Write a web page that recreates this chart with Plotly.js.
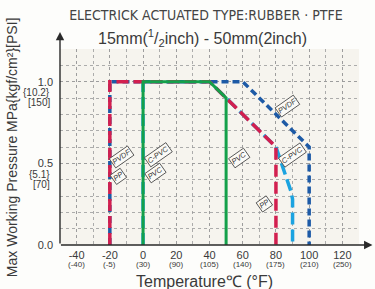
<!DOCTYPE html>
<html><head><meta charset="utf-8">
<script src="https://cdn.plot.ly/plotly-3.0.1.min.js"></script>
<style>html,body{margin:0;padding:0;background:#fdfdfb;}#chart{width:375px;height:289px;}</style>
</head><body><div id="chart"></div>
<script>
// ---- data ----
const ppX = [-20, -20, 40, 80, 80];
const ppY = [0, 1.0, 1.0, 0.6, 0];
const pvdfX = [-20, -20, 60, 100, 100];
const pvdfY = [0, 1.0, 1.0, 0.6, 0];
const pvcX = [0, 0, 40, 50, 50];
const pvcY = [0, 1.0, 1.0, 0.9, 0];
const cpvcX = [0, 0, 40, 80, 86, 89, 90, 90];
const cpvcY = [0, 1.0, 1.0, 0.6, 0.42, 0.33, 0.28, 0];

const xTickVals = [-40, -20, 0, 20, 40, 60, 80, 100, 120];
const xTickC = ['-40', '-20', '0', '20', '40', '60', '80', '100', '120'];
const xTickF = ['(-40)', '(-5)', '(30)', '(90)', '(105)', '(140)', '(175)', '(210)', '(250)'];
const yTickVals = [0, 0.5, 1.0];
const yTickMPa = ['0.0', '0.5', '1.0'];
const yTickKgf = ['', '{5.1}', '{10.2}'];
const yTickPsi = ['', '[70]', '[150]'];

const labelText = ['PVDF', 'PP', 'C-PVC', 'PVC', 'PVC', 'PVDF', 'C-PVC', 'PP'];
const labelX = [-13, -14.5, 9, 7.5, 58, 87, 90, 73];
const labelY = [0.54, 0.42, 0.55, 0.44, 0.53, 0.85, 0.55, 0.25];

const titleText = 'ELECTRICK ACTUATED TYPE:RUBBER · PTFE';
const subtitleText = '15mm(<sup>1</sup>/<sub>2</sub>inch) - 50mm(2inch)';
const yTitle = 'Max Working Pressure MPa{kgf/cm²}[PSI]';
const xTitle = 'Temperature℃ (°F)';

// ---- build ----
const txtCol = '#3a3a3a';
const sans = 'Liberation Sans, Arial, sans-serif';

const traces = [
  {x: pvdfX, y: pvdfY, mode: 'lines', line: {color: '#1d5aa6', width: 3.5, dash: '7px,4px'}, hoverinfo: 'skip'},
  {x: cpvcX, y: cpvcY, mode: 'lines', line: {color: '#1ba3e0', width: 3.5, dash: '12px,5px'}, hoverinfo: 'skip'},
  {x: ppX, y: ppY, mode: 'lines', line: {color: '#d21f4f', width: 3.5, dash: '12px,5px'}, hoverinfo: 'skip'},
  {x: pvcX, y: pvcY, mode: 'lines', line: {color: '#14a04a', width: 3}, hoverinfo: 'skip'}
];

const annotations = labelText.map((t, i) => ({
  x: labelX[i], y: labelY[i], xref: 'x', yref: 'y', text: '<i>' + t + '</i>', showarrow: false,
  textangle: -35, font: {family: sans, size: 7.5, color: '#333'},
  bordercolor: '#444', borderwidth: 0.8, borderpad: 0.5, bgcolor: '#fbfaf6'
}));
// °F labels under the °C tick labels
xTickVals.forEach((v, i) => annotations.push({
  x: v, xref: 'x', y: -0.097, yref: 'paper', text: xTickF[i], showarrow: false,
  xanchor: 'center', yanchor: 'middle', font: {family: sans, size: 8, color: txtCol}
}));
// kgf and PSI lines under the MPa tick labels
yTickVals.forEach((v, i) => {
  if (!yTickKgf[i]) return;
  annotations.push({x: -0.027, xref: 'paper', y: v, yref: 'y', yshift: -11, text: yTickKgf[i], showarrow: false,
    xanchor: 'right', yanchor: 'middle', font: {family: sans, size: 10, color: txtCol}});
  annotations.push({x: -0.027, xref: 'paper', y: v, yref: 'y', yshift: -21, text: yTickPsi[i], showarrow: false,
    xanchor: 'right', yanchor: 'middle', font: {family: sans, size: 10, color: txtCol}});
});
annotations.push(
  {xref: 'paper', yref: 'paper', x: 1.045, y: 0, ax: -313, ay: 0, text: '', showarrow: true,
   arrowhead: 2, arrowsize: 1.2, arrowwidth: 1.4, arrowcolor: '#2a2a2a'},
  {xref: 'paper', yref: 'paper', x: 0, y: 1.087, ax: 0, ay: 213, text: '', showarrow: true,
   arrowhead: 2, arrowsize: 1.2, arrowwidth: 1.4, arrowcolor: '#2a2a2a'},
  {xref: 'paper', yref: 'paper', x: 0.478, y: 1.056, xanchor: 'center', yanchor: 'middle', text: subtitleText,
   showarrow: false, font: {family: sans, size: 16, color: txtCol}},
  {xref: 'paper', yref: 'paper', x: -0.16, y: 0.50, xanchor: 'center', yanchor: 'middle', text: yTitle,
   showarrow: false, textangle: -90, font: {family: sans, size: 14, color: txtCol}},
  {xref: 'paper', yref: 'paper', x: 0.483, y: -0.186, xanchor: 'center', yanchor: 'middle', text: xTitle,
   showarrow: false, font: {family: sans, size: 16, color: txtCol}}
);

const gridStyle = {gridcolor: '#9a9a9a', gridwidth: 0.8, griddash: 'dot'};
const layout = {
  width: 375, height: 289,
  margin: {l: 60, r: 16, t: 49, b: 44},
  paper_bgcolor: '#fdfdfb', plot_bgcolor: '#f6f4ee',
  showlegend: false,
  title: {text: titleText, x: 0.488, xref: 'paper', xanchor: 'center', y: 1 - 15/289, yref: 'container', yanchor: 'middle',
    font: {family: 'DejaVu Sans Condensed, DejaVu Sans, sans-serif', size: 14, color: '#444'}},
  xaxis: Object.assign({range: [-50, 130], tickvals: xTickVals, ticktext: xTickC, showgrid: true,
    zeroline: false, showline: false, ticks: '', ticklabelstandoff: 2,
    tickfont: {family: sans, size: 11, color: txtCol},
    minor: Object.assign({dtick: 10, tick0: 0, showgrid: true}, gridStyle), fixedrange: true}, gridStyle),
  yaxis: Object.assign({range: [0, 1.2], tickvals: yTickVals, ticktext: yTickMPa, showgrid: true,
    zeroline: false, showline: false, ticks: '', ticklabelstandoff: 6,
    tickfont: {family: sans, size: 11, color: txtCol},
    minor: Object.assign({dtick: 0.1, tick0: 0, showgrid: true}, gridStyle), fixedrange: true}, gridStyle),
  annotations: annotations
};
Plotly.newPlot('chart', traces, layout, {staticPlot: true, displayModeBar: false});
</script></body></html>
